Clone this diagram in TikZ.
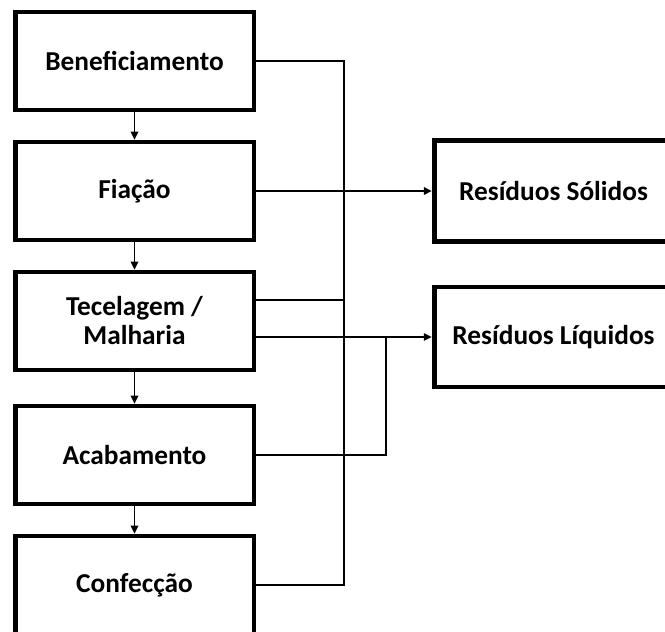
\documentclass[tikz,border=0pt]{standalone}
\usepackage{fontspec}
\setmainfont{Carlito}
\usetikzlibrary{arrows.meta}
\begin{document}
\begin{tikzpicture}[x=0.75pt,y=-0.75pt,
	etapa/.style={draw, line width=3.5pt, minimum width=179pt, minimum height=73.5pt, inner sep=0pt, align=center, font=\fontsize{20.5}{21.75}\selectfont\bfseries},
	liga/.style={line width=1.3pt},
	seta/.style={liga, -{Triangle[length=6pt,width=5.5pt]}}]
	\clip (0,0) rectangle (665,632);
	\fill [white] (0,0) rectangle (665,632);
	% etapas do processo
	\node[etapa] (benef) at (134.5,61) {Beneficiamento};
	\node[etapa] (fiacao) at (134.5,191) {Fiação};
	\node[etapa] (tecel) at (134.5,321) {Tecelagem /\\Malharia};
	\node[etapa] (acab) at (134.5,455) {Acabamento};
	\node[etapa] (confec) at (134.5,585) {Confecção};
	% residuos
	\node[etapa, minimum height=76pt] (solidos) at (553.5,191) {Resíduos Sólidos};
	\node[etapa, minimum height=75pt] (liquidos) at (553.5,337) {Resíduos Líquidos};
	\draw [seta] (benef) -- (fiacao);
	\draw [seta] (fiacao) -- (tecel);
	\draw [seta] (tecel) -- (acab);
	\draw [seta] (acab) -- (confec);
	\coordinate (topo) at (344,61);
	\coordinate (base) at (344,585);
	\coordinate (junta) at (386,337);
	\draw [liga] (benef.east) -- (topo) -- (base) -- (confec.east);
	\draw [liga] (fiacao.east) -- (fiacao.east -| topo);
	\draw [seta, line width=1.8pt] (fiacao.east -| topo) -- (solidos.west);
	\draw [liga] (tecel.east |- 0,300) -- (topo |- 0,300);
	\draw [seta] (tecel.east |- liquidos.west) -- (liquidos.west);
	\draw [liga] (acab.east) -- (acab.east -| junta) -- (junta);
\end{tikzpicture}
\end{document}
